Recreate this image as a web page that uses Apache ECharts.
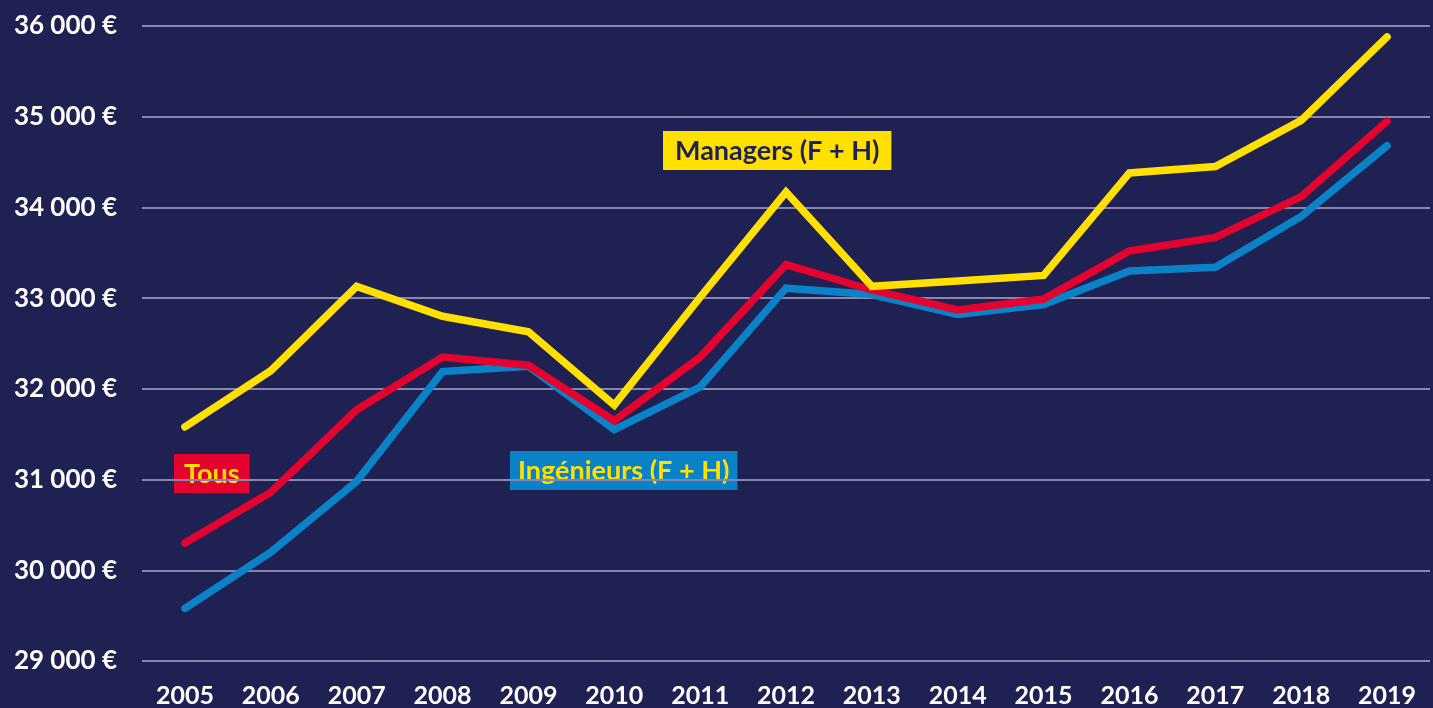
<!DOCTYPE html>
<html>
<head>
<meta charset="utf-8">
<script src="https://cdn.jsdelivr.net/npm/echarts@6/dist/echarts.min.js"></script>
<style>
  html, body { margin: 0; padding: 0; background: #1e2152; }
  #chart { width: 1433px; height: 708px; }
</style>
</head>
<body>
<div id="chart"></div>
<script>
var years = ["2005", "2006", "2007", "2008", "2009", "2010", "2011", "2012", "2013", "2014", "2015", "2016", "2017", "2018", "2019"];
var managers = [31580, 32200, 33130, 32800, 32630, 31820, 33010, 34170, 33130, 33190, 33250, 34380, 34450, 34960, 35880];
var tous = [30300, 30860, 31770, 32350, 32260, 31650, 32350, 33370, 33090, 32870, 32990, 33520, 33670, 34120, 34950];
var ingenieurs = [29580, 30200, 30980, 32190, 32250, 31550, 32020, 33110, 33040, 32820, 32930, 33300, 33340, 33900, 34680];

var font = "Lato";
var chart = echarts.init(document.getElementById("chart"));

function fmt(v) {
  return String(v).replace(/\B(?=(\d{3})+(?!\d))/g, " ") + " €";
}

function line(name, data, color) {
  return {
    name: name,
    type: "line",
    data: data,
    symbol: "none",
    silent: true,
    lineStyle: { color: color, width: 7.5, cap: "round", join: "miter" }
  };
}

chart.setOption({
  backgroundColor: "#1e2152",
  animation: false,
  grid: { left: 142, right: 3, top: 26, bottom: 47 },
  xAxis: {
    type: "category",
    data: years,
    boundaryGap: true,
    axisLine: { show: false },
    axisTick: { show: false },
    axisLabel: {
      color: "#ffffff",
      fontFamily: font,
      fontWeight: "bold",
      fontSize: 25,
      margin: 22,
      interval: 0
    }
  },
  yAxis: {
    type: "value",
    min: 29000,
    max: 36000,
    interval: 1000,
    axisLine: { show: false },
    axisTick: { show: false },
    splitLine: { lineStyle: { color: "#8886ad", width: 2 } },
    axisLabel: {
      color: "#ffffff",
      fontFamily: font,
      fontWeight: "bold",
      fontSize: 26,
      margin: 25,
      formatter: fmt
    }
  },
  series: [
    line("Ingénieurs (F + H)", ingenieurs, "#0a82c8"),
    line("Tous", tous, "#e4032e"),
    line("Managers (F + H)", managers, "#ffe000")
  ],
  graphic: [
    {
      type: "text", left: 174, top: 454,
      style: {
        text: "Tous", fill: "#ffe000", font: "bold 27px " + font,
        backgroundColor: "#e4032e", padding: [7, 10, 5, 10]
      }
    },
    {
      type: "text", left: 510, top: 451,
      style: {
        text: "Ingénieurs (F + H)", fill: "#ffe000", font: "bold 27px " + font,
        backgroundColor: "#0a82c8", padding: [7, 8, 5, 8]
      }
    },
    {
      type: "text", left: 663, top: 131,
      style: {
        text: "Managers (F + H)", fill: "#1e2152", font: "bold 27px " + font,
        backgroundColor: "#ffe000", padding: [7, 12, 5, 12]
      }
    }
  ]
});
</script>
</body>
</html>
